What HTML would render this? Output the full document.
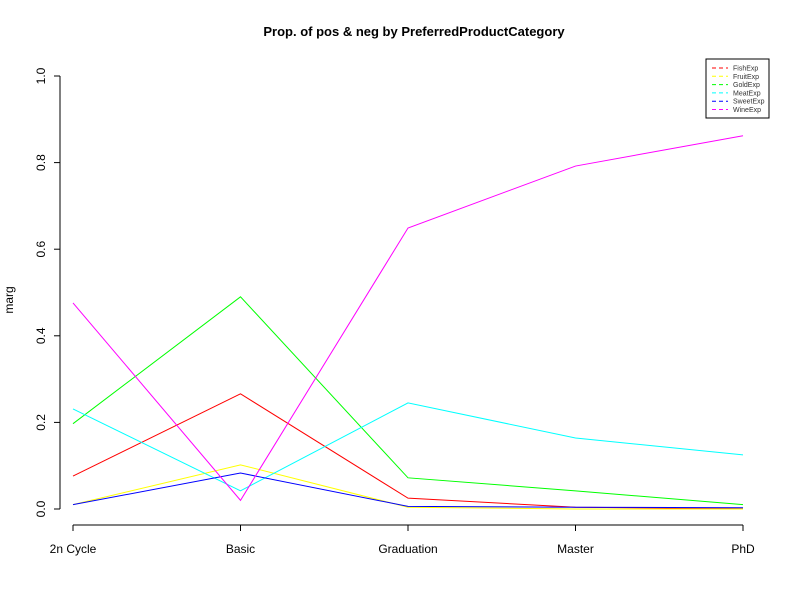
<!DOCTYPE html>
<html><head><style>
body{margin:0;background:#fff;}
svg{font-family:"Liberation Sans",Arial,sans-serif;display:block}
</style></head><body>
<svg width="800" height="600">
<rect width="800" height="600" fill="#fff"/>
<text x="414" y="36" text-anchor="middle" font-size="13" font-weight="bold">Prop. of pos &amp; neg by PreferredProductCategory</text>
<text transform="translate(13,300) rotate(-90)" text-anchor="middle" font-size="12">marg</text>
<g id="axes"></g>
<g id="lines"></g>
<g id="legend"></g>
</svg>
<script>
const categories=["2n Cycle","Basic","Graduation","Master","PhD"];
const seriesNames=["FishExp","FruitExp","GoldExp","MeatExp","SweetExp","WineExp"];
const seriesColors=["#ff0000","#ffff00","#00ff00","#00ffff","#0000ff","#ff00ff"];
const fish=[0.076,0.266,0.025,0.004,0.001];
const fruit=[0.01,0.102,0.004,0.0,0.0];
const gold=[0.197,0.49,0.072,0.042,0.01];
const meat=[0.231,0.042,0.245,0.164,0.125];
const sweet=[0.01,0.083,0.006,0.004,0.003];
const wine=[0.476,0.02,0.649,0.792,0.862];
const yTicks=["0.0","0.2","0.4","0.6","0.8","1.0"];
const series=[fish,fruit,gold,meat,sweet,wine];
const NS="http://www.w3.org/2000/svg";
const x=i=>73+i*(743-73)/(categories.length-1);
const y=v=>509-v*433;
function mk(t,a,p){const e=document.createElementNS(NS,t);for(const k in a)e.setAttribute(k,a[k]);p.appendChild(e);return e;}
const ax=document.getElementById('axes');
const ya=mk('line',{x1:60,x2:60,y1:y(0),y2:y(1),stroke:'#000'},ax);


yTicks.forEach(t=>{const v=parseFloat(t);mk('line',{x1:54,x2:60,y1:y(v),y2:y(v),stroke:'#000'},ax);
const tx=mk('text',{transform:`translate(45,${y(v)}) rotate(-90)`,'text-anchor':'middle','font-size':12},ax);tx.textContent=t;

});
const xa=mk('line',{x1:x(0),x2:x(categories.length-1),y1:525,y2:525,stroke:'#000'},ax);


categories.forEach((c,i)=>{mk('line',{x1:x(i),x2:x(i),y1:525,y2:531,stroke:'#000'},ax);
const tx=mk('text',{x:x(i),y:553,'text-anchor':'middle','font-size':12},ax);tx.textContent=c;

});
const lg=document.getElementById('lines');
series.forEach((s,k)=>{const p=mk('polyline',{points:s.map((v,i)=>x(i)+','+y(v)).join(' '),fill:'none',stroke:seriesColors[k],'stroke-width':1},lg);

});
const le=document.getElementById('legend');
const box=mk('rect',{x:706,y:59,width:63,height:59,fill:'#fff',stroke:'#000'},le);


seriesNames.forEach((n,k)=>{const yy=68+k*8.3;
mk('line',{x1:712,x2:728,y1:yy,y2:yy,stroke:seriesColors[k],'stroke-dasharray':'4,3'},le);
const t=mk('text',{x:733,y:yy+2.5,'font-size':7,fill:'#333'},le);t.textContent=n;

});
</script>
</body></html>
